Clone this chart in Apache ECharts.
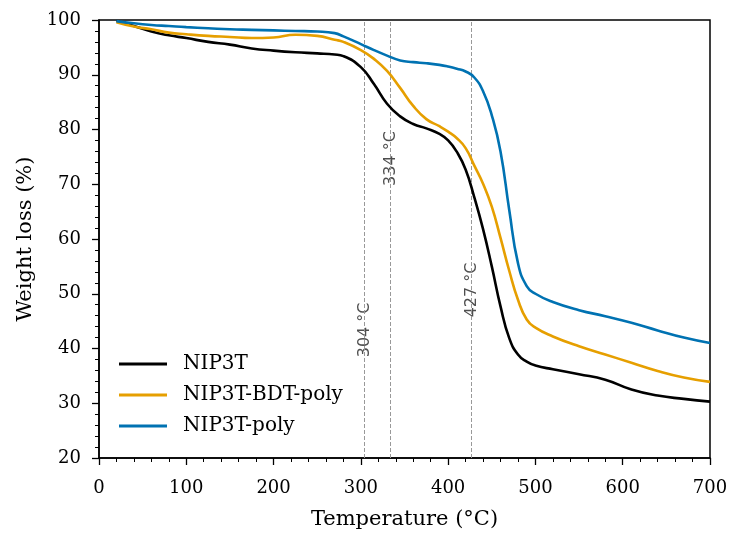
<!DOCTYPE html>
<html>
<head>
<meta charset="utf-8">
<script src="https://cdn.jsdelivr.net/npm/echarts@6/dist/echarts.min.js"></script>
<style>
  html, body { margin: 0; padding: 0; background: #fff; }
  #chart { width: 731px; height: 535px; }
</style>
</head>
<body>
<div id="chart"></div>
<script>
// TGA curves: weight remaining (%) versus temperature (°C)
const temperatures = [20, 40, 60, 80, 100, 125, 150, 175, 200, 225, 250, 270, 280, 300, 315, 330, 345, 360, 375, 390, 400, 410, 420, 430, 440, 450, 460, 470, 480, 490, 500, 520, 550, 580, 610, 640, 670, 700];
const nip3t =        [99.8, 98.9, 97.9, 97.2, 96.7, 96.0, 95.5, 94.8, 94.4, 94.1, 93.9, 93.7, 93.4, 91.4, 88.3, 84.7, 82.4, 81.0, 80.2, 79.2, 78.0, 75.9, 72.7, 67.6, 61.8, 55.0, 47.7, 41.9, 38.9, 37.6, 36.9, 36.2, 35.3, 34.3, 32.5, 31.4, 30.8, 30.3];
const nip3tBdtPoly = [99.6, 98.8, 98.3, 97.7, 97.4, 97.1, 96.9, 96.7, 96.8, 97.3, 97.1, 96.4, 96.0, 94.5, 92.9, 90.7, 87.6, 84.3, 81.9, 80.6, 79.6, 78.4, 76.6, 73.4, 70.1, 65.9, 60.2, 54.2, 48.9, 45.3, 43.8, 42.2, 40.4, 38.9, 37.4, 35.9, 34.7, 33.9];
const nip3tPoly =    [99.8, 99.4, 99.1, 98.9, 98.7, 98.5, 98.3, 98.2, 98.1, 98.0, 97.9, 97.6, 97.0, 95.6, 94.5, 93.5, 92.6, 92.3, 92.1, 91.8, 91.5, 91.1, 90.6, 89.5, 87.0, 82.6, 76.0, 65.3, 55.6, 51.4, 50.0, 48.5, 47.0, 45.9, 44.7, 43.3, 42.0, 41.0];

const seriesNames = ['NIP3T', 'NIP3T-BDT-poly', 'NIP3T-poly'];
const seriesColors = ['#000000', '#E69F00', '#0072B2'];

// Onset temperatures marked with dashed guides, and where their labels sit
const onsetTemps = [304, 334, 427];
const onsetLabelWeight = [43.4, 74.7, 50.7];

const serif = 'DejaVu Serif';
const sans = 'DejaVu Sans';

const pair = (xs, ys) => xs.map((x, i) => [x, ys[i]]);

const chart = echarts.init(document.getElementById('chart'), null, { renderer: 'canvas' });

const lineSeries = [nip3t, nip3tBdtPoly, nip3tPoly].map((vals, i) => ({
  name: seriesNames[i],
  type: 'line',
  data: pair(temperatures, vals),
  smooth: 0.5,
  showSymbol: false,
  symbol: 'none',
  lineStyle: { color: seriesColors[i], width: 2.6 },
  itemStyle: { color: seriesColors[i] },
  z: 5
}));

const axisCommon = {
  type: 'value',
  axisLine: { show: true, onZero: false, lineStyle: { color: '#000', width: 1.5 } },
  axisTick: { show: true, inside: false, length: 7, lineStyle: { color: '#000', width: 1.3 } },
  minorTick: { show: true, splitNumber: 5, length: 4, lineStyle: { color: '#000', width: 1 } },
  splitLine: { show: false },
  minorSplitLine: { show: false },
  axisLabel: { color: '#000', fontFamily: serif, fontSize: 18 },
  nameTextStyle: { color: '#000', fontFamily: serif, fontSize: 21 }
};

chart.setOption({
  animation: false,
  backgroundColor: '#fff',
  grid: {
    left: 99, right: 21, top: 20, bottom: 75,
    show: true, borderColor: '#000', borderWidth: 1.5, backgroundColor: 'transparent'
  },
  legend: {
    data: seriesNames,
    orient: 'vertical',
    left: 114,
    top: 349,
    itemWidth: 48,
    itemHeight: 3,
    itemGap: 11,
    icon: 'rect',
    textStyle: { color: '#000', fontFamily: serif, fontSize: 20, padding: [0, 0, 0, 11] }
  },
  xAxis: Object.assign({}, axisCommon, {
    min: 0, max: 700, interval: 100,
    name: 'Temperature (°C)',
    nameLocation: 'middle',
    nameGap: 51,
    axisLabel: Object.assign({}, axisCommon.axisLabel, { margin: 21 })
  }),
  yAxis: Object.assign({}, axisCommon, {
    min: 20, max: 100, interval: 10,
    name: 'Weight loss (%)',
    nameLocation: 'middle',
    nameGap: 62,
    axisLabel: Object.assign({}, axisCommon.axisLabel, { margin: 18 })
  }),
  series: [
    {
      name: 'onsets',
      type: 'scatter',
      data: pair(onsetTemps, onsetLabelWeight),
      symbolSize: 1,
      itemStyle: { color: 'rgba(0,0,0,0)' },
      silent: true,
      z: 3,
      label: {
        show: true,
        position: 'inside',
        rotate: 90,
        formatter: p => p.value[0] + ' °C',
        fontFamily: sans,
        fontSize: 16,
        color: '#222',
        backgroundColor: '#fff',
        padding: [1, 2]
      },
      markLine: {
        silent: true,
        symbol: ['none', 'none'],
        label: { show: false },
        lineStyle: { type: [4, 2], color: '#999', width: 1 },
        data: onsetTemps.map(t => ({ xAxis: t }))
      }
    }
  ].concat(lineSeries)
});
</script>
</body>
</html>
